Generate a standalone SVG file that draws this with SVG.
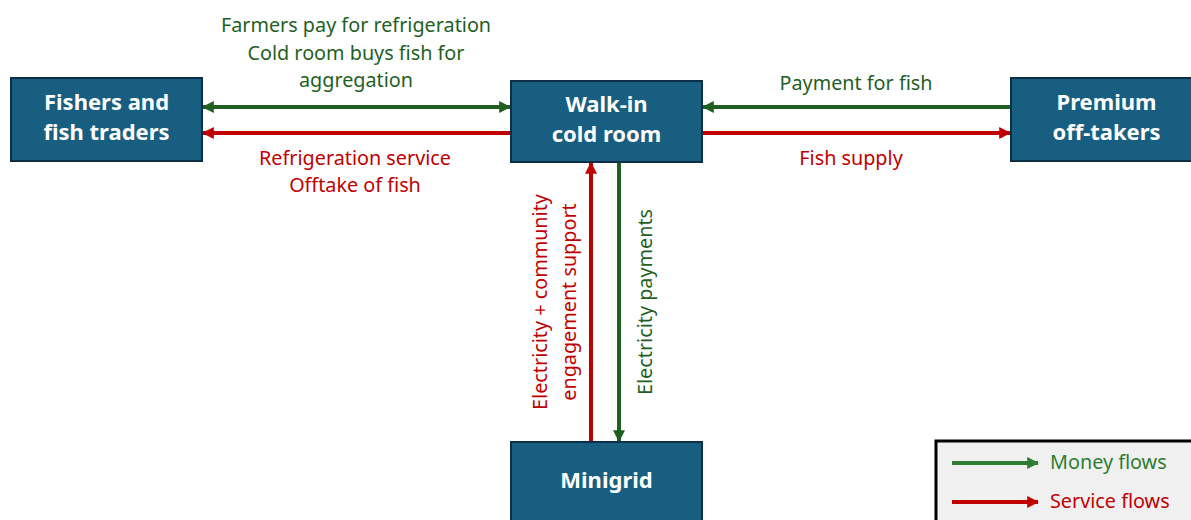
<svg xmlns="http://www.w3.org/2000/svg" width="1191" height="520" viewBox="0 0 1191 520">
<style>
.box{fill:#175e80;stroke:#0d2f45;stroke-width:2}
.bt{font-family:"Noto Sans","Liberation Sans",sans-serif;font-weight:bold;font-size:22px;fill:#ffffff;text-anchor:middle}
.lbl{font-family:"Noto Sans","Liberation Sans",sans-serif;font-size:19.8px;text-anchor:middle}
.g{fill:#1f5f1f}
.r{fill:#c00000}
.gl{stroke:#1f5f1f;stroke-width:4;fill:none}
.rl{stroke:#c00000;stroke-width:4;fill:none}
.lg{fill:#2e7d32}
.lgl{stroke:#2e7d32;stroke-width:4;fill:none}
</style>
<defs>
<marker id="ag" viewBox="0 0 10 10" refX="9" refY="5" markerWidth="3" markerHeight="3" orient="auto-start-reverse" markerUnits="strokeWidth"><path d="M0,0 L10,5 L0,10 z" fill="#1f5f1f"/></marker>
<marker id="ar" viewBox="0 0 10 10" refX="9" refY="5" markerWidth="3" markerHeight="3" orient="auto-start-reverse" markerUnits="strokeWidth"><path d="M0,0 L10,5 L0,10 z" fill="#c00000"/></marker>
<marker id="agl" viewBox="0 0 10 10" refX="9" refY="5" markerWidth="3" markerHeight="3" orient="auto" markerUnits="strokeWidth"><path d="M0,0 L10,5 L0,10 z" fill="#2e7d32"/></marker>
</defs>
<rect width="1191" height="520" fill="#ffffff"/>
<g id="connectors">
<line class="gl" x1="203" y1="107" x2="510" y2="107" marker-start="url(#ag)" marker-end="url(#ag)"/>
<line class="rl" x1="511" y1="133" x2="203" y2="133" marker-end="url(#ar)"/>
<line class="gl" x1="1011" y1="107" x2="703" y2="107" marker-end="url(#ag)"/>
<line class="rl" x1="702" y1="133" x2="1010" y2="133" marker-end="url(#ar)"/>
<line class="rl" x1="591" y1="442" x2="591" y2="163" marker-end="url(#ar)"/>
<line class="gl" x1="619" y1="162" x2="619" y2="441" marker-end="url(#ag)"/>
<text class="lbl g" x="356" y="32">Farmers pay for refrigeration</text>
<text class="lbl g" x="356" y="60">Cold room buys fish for</text>
<text class="lbl g" x="356" y="87">aggregation</text>
<text class="lbl r" x="355" y="165">Refrigeration service</text>
<text class="lbl r" x="355" y="192">Offtake of fish</text>
<text class="lbl g" x="856" y="90">Payment for fish</text>
<text class="lbl r" x="851" y="165">Fish supply</text>
<text class="lbl r" transform="translate(547,302) rotate(-90)">Electricity + community</text>
<text class="lbl r" transform="translate(576,302) rotate(-90)">engagement support</text>
<text class="lbl g" transform="translate(652,302) rotate(-90)">Electricity payments</text>
</g>
<g id="fishers">
<rect class="box" x="11" y="78" width="191" height="83"/>
<text class="bt" x="106.5" y="110">Fishers and</text>
<text class="bt" x="106.5" y="140">fish traders</text>
</g>
<g id="coldroom">
<rect class="box" x="511" y="81" width="191" height="81"/>
<text class="bt" x="606.5" y="112">Walk-in</text>
<text class="bt" x="606.5" y="142">cold room</text>
</g>
<g id="offtakers">
<rect class="box" x="1011" y="78" width="191" height="83"/>
<text class="bt" x="1106.5" y="110">Premium</text>
<text class="bt" x="1106.5" y="140">off-takers</text>
</g>
<g id="minigrid">
<rect class="box" x="511" y="442" width="191" height="90"/>
<text class="bt" x="606.5" y="488">Minigrid</text>
</g>
<g id="legend">
<rect x="936" y="441" width="270" height="90" fill="#f0f0f0" stroke="#000000" stroke-width="3"/>
<line class="lgl" x1="952" y1="463" x2="1038" y2="463" marker-end="url(#agl)"/>
<line class="rl" x1="952" y1="502" x2="1038" y2="502" marker-end="url(#ar)"/>
<text class="lbl lg" x="1050" y="469" style="text-anchor:start">Money flows</text>
<text class="lbl r" x="1050" y="508" style="text-anchor:start">Service flows</text>
</g>
</svg>
